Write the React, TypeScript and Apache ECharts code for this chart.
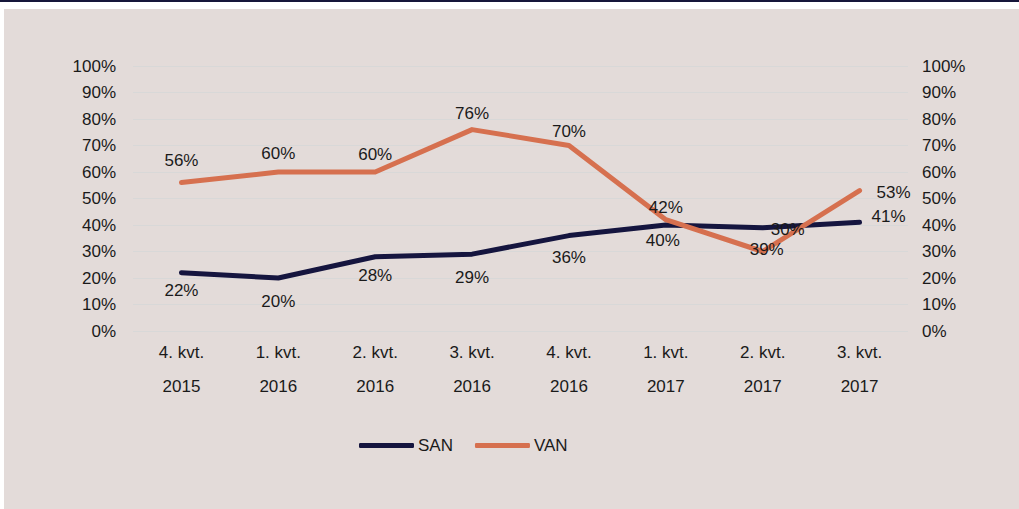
import React, { useEffect, useRef } from "react";
import * as echarts from "echarts";

const quarters = ["4. kvt.", "1. kvt.", "2. kvt.", "3. kvt.", "4. kvt.", "1. kvt.", "2. kvt.", "3. kvt."];
const years = ["2015", "2016", "2016", "2016", "2016", "2017", "2017", "2017"];
const sanValues = [22, 20, 28, 29, 36, 40, 39, 41];
const vanValues = [56, 60, 60, 76, 70, 42, 30, 53];

const FONT = "'Liberation Sans', Arial, Helvetica, sans-serif";
const NAVY = "#15153f";
const ORANGE = "#d6704f";

// label nudges (layout only)
const sanLabelOffsets: [number, number][] = [[0, 0], [0, 6], [0, 1], [0, 6], [0, 4], [-3, -2], [4, 4], [0, -6]];
const vanLabelOffsets: [number, number][] = [[0, -5], [0, -1], [0, 0], [0, 1], [0, 4], [0, 5], [25, -4], [5, 2]];

export default function App() {
  const ref = useRef<HTMLDivElement>(null);
  useEffect(() => {
    if (!ref.current) return;
    const chart = echarts.init(ref.current, null, { renderer: "svg" });
    const categories = quarters.map((q, i) => q + "\n" + years[i]);
    const lastIdx = sanValues.length - 1;
    const mkData = (vals: number[], pos: string, offsets: [number, number][]) =>
      vals.map((v, i) => ({
        value: v,
        label:
          i === lastIdx
            ? { position: "right", distance: 12, offset: offsets[i] }
            : { position: pos, distance: 9, offset: offsets[i] },
      }));
    const yAxisCommon = {
      type: "value",
      min: 0,
      max: 100,
      interval: 10,
      axisLine: { show: false },
      axisTick: { show: false },
      axisLabel: { formatter: "{value}%", fontSize: 17, color: "#1a1a1a", fontFamily: FONT, margin: 17 },
    };
    const labelStyle = { show: true, formatter: "{c}%", fontSize: 17, color: "#1a1a1a", fontFamily: FONT };
    chart.setOption({
      animation: false,
      backgroundColor: "transparent",
      textStyle: { fontFamily: FONT },
      grid: { left: 133, right: 111, top: 66, bottom: 178, containLabel: false },
      legend: {
        bottom: 50,
        left: 354,
        icon: "roundRect",
        itemWidth: 55,
        itemHeight: 5,
        itemGap: 22,
        textStyle: { fontSize: 17, color: "#1a1a1a", fontFamily: FONT, padding: [0, 0, 0, -1] },
        data: ["SAN", "VAN"],
      },
      xAxis: {
        type: "category",
        data: categories,
        boundaryGap: true,
        axisLine: { show: false },
        axisTick: { show: false },
        axisLabel: { fontSize: 17, color: "#1a1a1a", lineHeight: 34, margin: 4, fontFamily: FONT, interval: 0 },
      },
      yAxis: [
        {
          ...yAxisCommon,
          position: "left",
          splitLine: { show: true, lineStyle: { color: "#d8d8d8", width: 1 } },
        },
        {
          ...yAxisCommon,
          position: "right",
          splitLine: { show: false },
          axisLabel: { ...yAxisCommon.axisLabel, margin: 14 },
        },
      ],
      series: [
        {
          name: "SAN",
          type: "line",
          data: mkData(sanValues, "bottom", sanLabelOffsets),
          showSymbol: true,
          symbol: "circle",
          symbolSize: 0.1,
          lineStyle: { color: NAVY, width: 5, cap: "round", join: "round" },
          itemStyle: { color: NAVY },
          label: labelStyle,
          z: 2,
        },
        {
          name: "VAN",
          type: "line",
          data: mkData(vanValues, "top", vanLabelOffsets),
          showSymbol: true,
          symbol: "circle",
          symbolSize: 0.1,
          lineStyle: { color: ORANGE, width: 5, cap: "round", join: "round" },
          itemStyle: { color: ORANGE },
          label: labelStyle,
          z: 2,
        },
      ],
    });
    return () => chart.dispose();
  }, []);

  return (
    <div style={{ position: "fixed", left: 0, top: 0, width: 1019, height: 509, background: "#ffffff", overflow: "hidden" }}>
      <div style={{ position: "absolute", left: 0, top: 0, width: 1019, height: 2, background: "#16163a" }} />
      <div style={{ position: "absolute", left: 4, top: 9, right: 0, bottom: 0, background: "#e3dbd9" }} />
      <div ref={ref} style={{ position: "absolute", left: 0, top: 0, width: 1019, height: 509 }} />
    </div>
  );
}
